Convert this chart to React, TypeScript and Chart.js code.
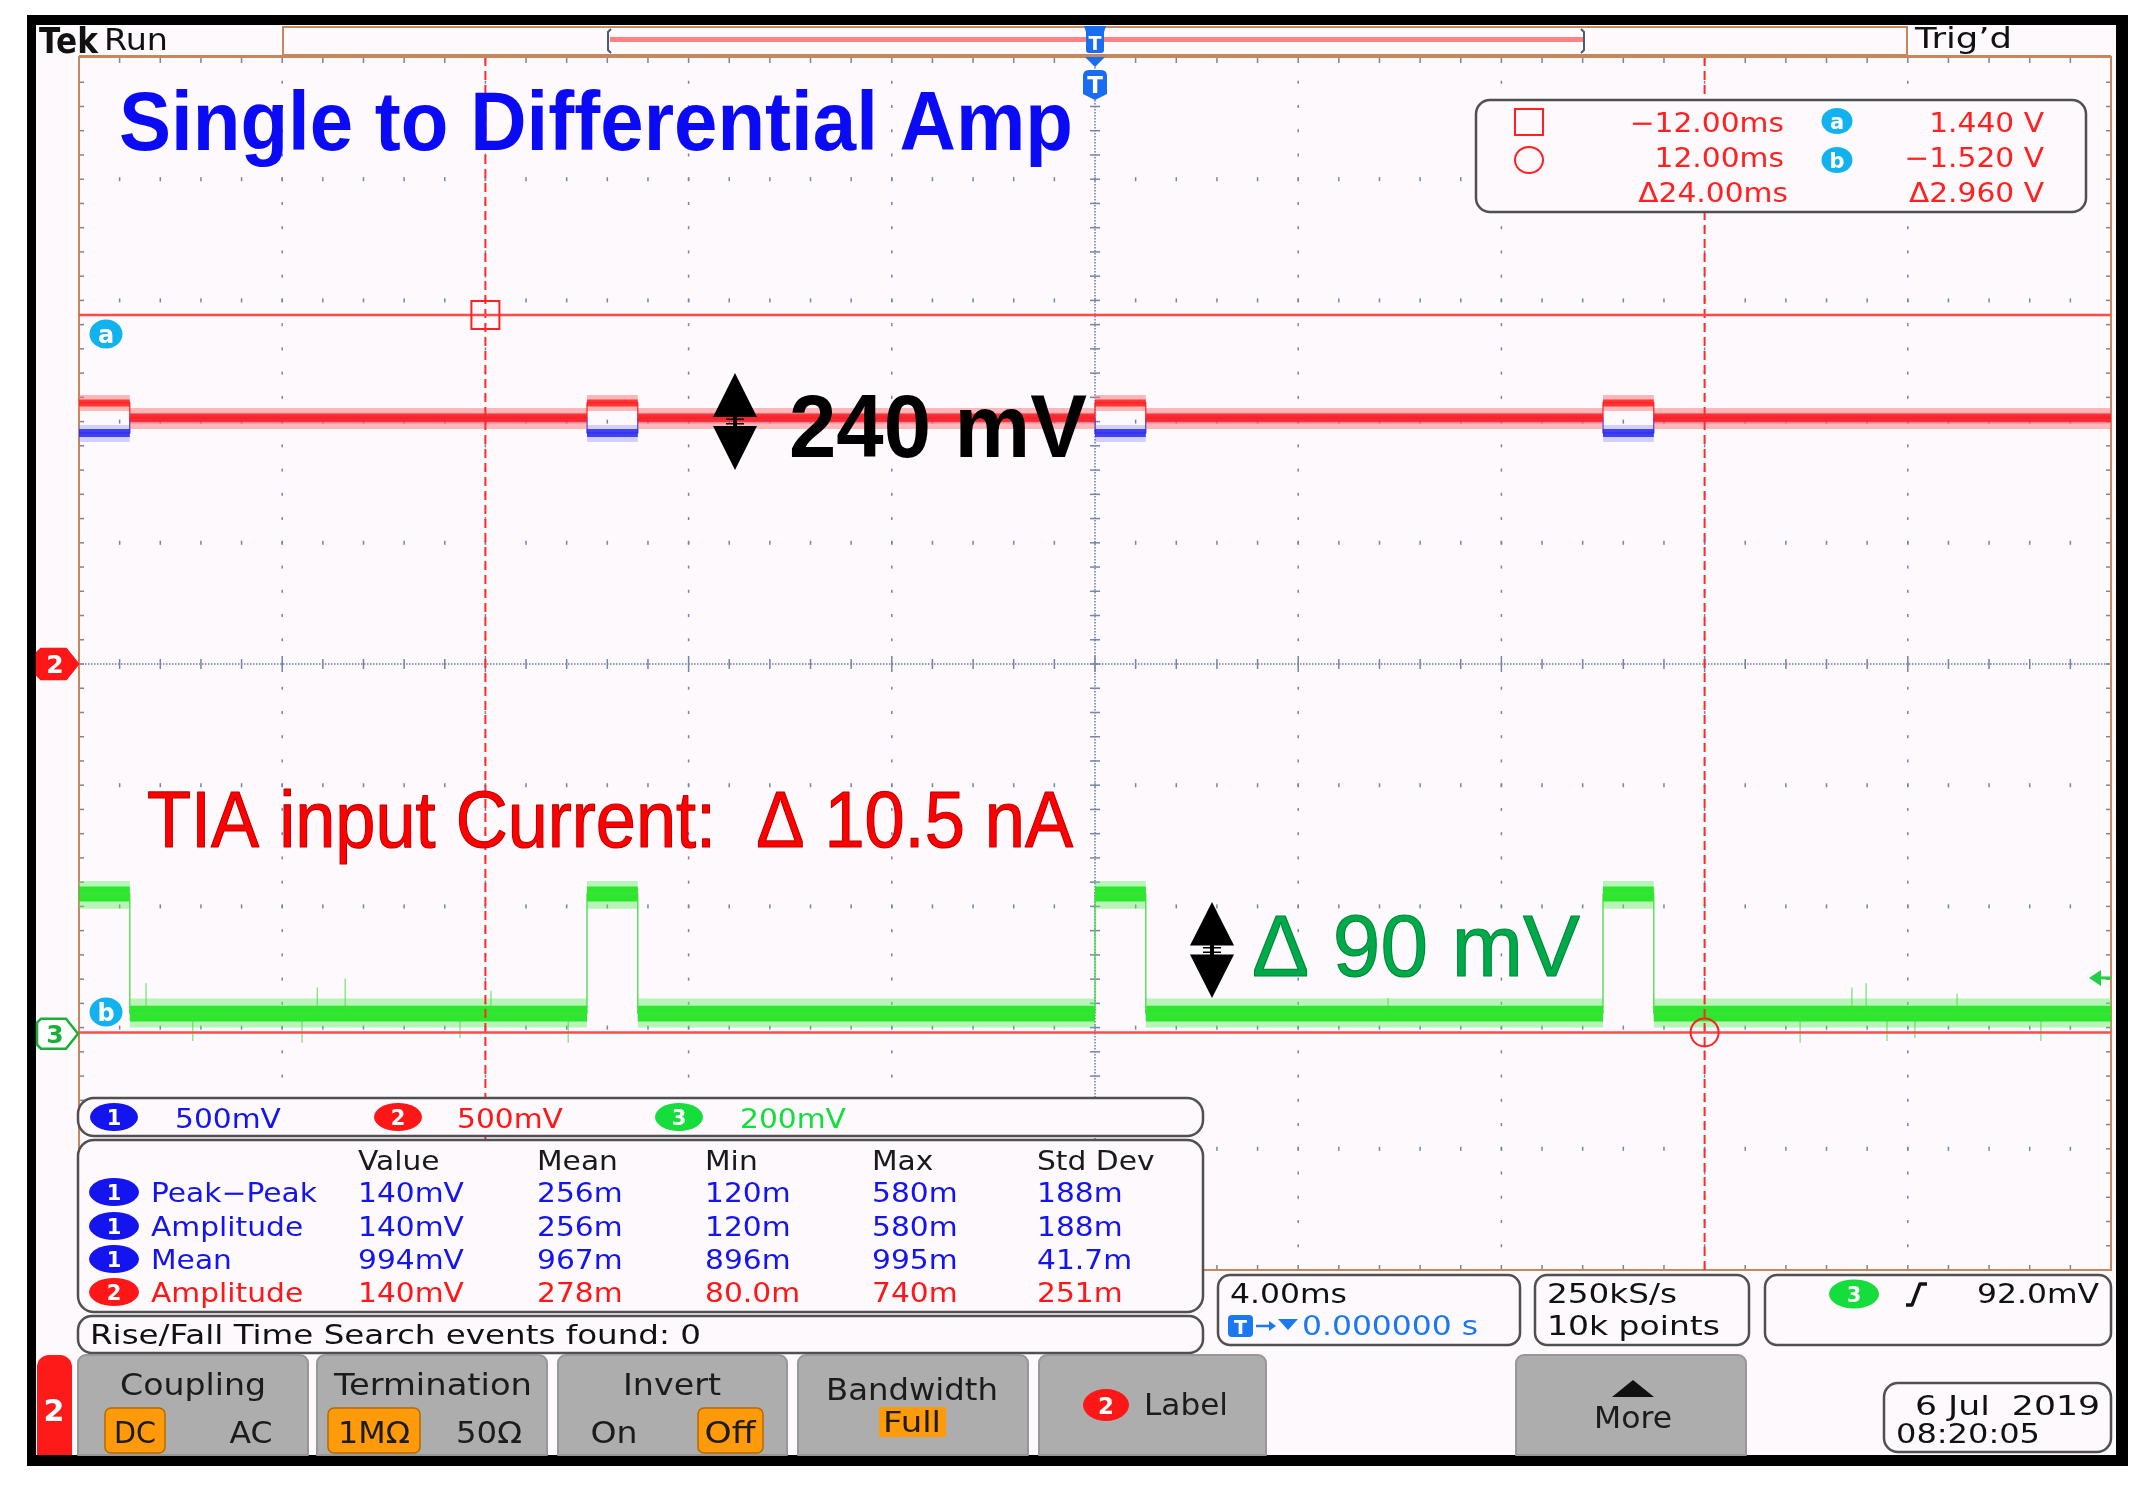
import React, { useEffect, useRef } from "react";
import { Chart, registerables } from "chart.js";
Chart.register(...registerables);

const CANVAS_W = 2144;
const CANVAS_H = 1487;

// ---- axes (time in ms, vertical in divisions) ----
const timeRangeMs = [-20, 20];
const divRange = [-5, 5];
const timeMajorStepMs = 4;
const timeMinorStepMs = 0.8;
const divMinorStep = 0.2;

// ---- pulse timing ----
const pulseStartsMs = [-20, -10, 0, 10];
const pulseWidthMs = 1.0;

// ---- channel settings ----
const ch1VoltsPerDiv = 0.5;
const ch2VoltsPerDiv = 0.5;
const ch3VoltsPerDiv = 0.2;
const ch1PositionDiv = 0;
const ch2PositionDiv = 0;
const ch3PositionDiv = -3.05;

// envelope levels in volts: [outer low, inner low, centre, inner high, outer high]
const ch1BaselineV = [0.99, 1.002, 1.013, 1.025, 1.036];
const ch1PulseV = [0.916, 0.936, 0.953, 0.969, 0.986];
const ch2BaselineV = [0.969, 0.997, 1.015, 1.033, 1.056];
const ch2PulseV = [1.044, 1.062, 1.077, 1.091, 1.11];
const ch3BaselineV = [0.01, 0.02, 0.033, 0.046, 0.058];
const ch3PulseV = [0.206, 0.218, 0.231, 0.243, 0.252];

// sparse noise spikes on channel 3
const ch3SpikeTimesMs = [-18.68, -17.76, -15.61, -15.31, -14.76, -12.5, -11.89, -10.37, 5.77, 13.88, 14.9, 15.18, 15.59, 16.14, 16.97, 18.62];
const ch3SpikePeaksV = [0.083, -0.012, -0.015, 0.076, 0.091, -0.007, 0.071, -0.015, 0.059, -0.015, 0.076, 0.083, -0.012, -0.007, 0.066, -0.012];

// ---- cursors & trigger ----
const cursorTimesMs = [-12, 12];
const cursorVolts = [1.44, -1.52];
const cursorVoltsPerDiv = 0.5;
const triggerTimeMs = 0;
const triggerLevelV = 0.092;

// ---- readouts / texts ----
const cursorTimeTexts = ["\u221212.00ms", "12.00ms", "\u039424.00ms"];
const cursorVoltTexts = ["1.440 V", "\u22121.520 V", "\u03942.960 V"];
const channelScaleTexts = ["500mV", "500mV", "200mV"];
const measurementHeaders = ["Value", "Mean", "Min", "Max", "Std Dev"];
const measurementChannels = [1, 1, 1, 2];
const measurementNames = ["Peak\u2212Peak", "Amplitude", "Mean", "Amplitude"];
const measurementRow1 = ["140mV", "256m", "120m", "580m", "188m"];
const measurementRow2 = ["140mV", "256m", "120m", "580m", "188m"];
const measurementRow3 = ["994mV", "967m", "896m", "995m", "41.7m"];
const measurementRow4 = ["140mV", "278m", "80.0m", "740m", "251m"];

const BG = "#fdf9fd";
const BROWN = "#c8875a";
const UI = '"DejaVu Sans", "Open Sans", sans-serif';
const ANN = '"Liberation Sans", Arial, sans-serif';
const CH1C = "#1414ee";
const CH2C = "#ff1616";
const CH3C = "#14dd3c";
const CYAN = "#12b2ee";

type TOpts = {
  size: number; color: string; font?: string; weight?: string;
  align?: "left" | "center" | "right"; w?: number; sx?: number; stroke?: string; lw?: number;
};

function txt(ctx: CanvasRenderingContext2D, s: string, x: number, y: number, o: TOpts) {
  ctx.save();
  const font = o.font ?? UI;
  ctx.font = `${o.weight ?? "normal"} ${o.size}px ${font}`;
  const m = ctx.measureText(s).width;
  const sx = o.w ? o.w / m : (o.sx ?? (font === UI ? 1.1 : 1));
  const dw = m * sx;
  const x0 = o.align === "center" ? x - dw / 2 : o.align === "right" ? x - dw : x;
  ctx.translate(x0, y);
  ctx.scale(sx, 1);
  ctx.textAlign = "left";
  ctx.textBaseline = "alphabetic";
  ctx.fillStyle = o.color;
  ctx.fillText(s, 0, 0);
  if (o.stroke) {
    ctx.strokeStyle = o.stroke;
    ctx.lineWidth = o.lw ?? 1;
    ctx.lineJoin = "round";
    ctx.strokeText(s, 0, 0);
  }
  ctx.restore();
}

function rrPath(ctx: CanvasRenderingContext2D, x: number, y: number, w: number, h: number, r: number) {
  ctx.beginPath();
  ctx.moveTo(x + r, y);
  ctx.arcTo(x + w, y, x + w, y + h, r);
  ctx.arcTo(x + w, y + h, x, y + h, r);
  ctx.arcTo(x, y + h, x, y, r);
  ctx.arcTo(x, y, x + w, y, r);
  ctx.closePath();
}

function box(ctx: CanvasRenderingContext2D, x: number, y: number, w: number, h: number, r: number, fill?: string, stroke?: string, lw = 2.5) {
  rrPath(ctx, x, y, w, h, r);
  if (fill) { ctx.fillStyle = fill; ctx.fill(); }
  if (stroke) { ctx.strokeStyle = stroke; ctx.lineWidth = lw; ctx.stroke(); }
}

function topRound(ctx: CanvasRenderingContext2D, x: number, y: number, w: number, h: number, r: number, fill: string, stroke?: string) {
  ctx.beginPath();
  ctx.moveTo(x, y + h);
  ctx.lineTo(x, y + r);
  ctx.arcTo(x, y, x + r, y, r);
  ctx.lineTo(x + w - r, y);
  ctx.arcTo(x + w, y, x + w, y + r, r);
  ctx.lineTo(x + w, y + h);
  ctx.closePath();
  ctx.fillStyle = fill;
  ctx.fill();
  if (stroke) { ctx.strokeStyle = stroke; ctx.lineWidth = 2; ctx.stroke(); }
}

function badge(ctx: CanvasRenderingContext2D, cx: number, cy: number, w: number, h: number, fill: string, label: string, size = 22) {
  ctx.beginPath();
  ctx.ellipse(cx, cy, w / 2, h / 2, 0, 0, Math.PI * 2);
  ctx.fillStyle = fill;
  ctx.fill();
  txt(ctx, label, cx, cy + size * 0.37, { size, color: "#ffffff", weight: "bold", align: "center", sx: 1 });
}

function dblArrow(ctx: CanvasRenderingContext2D, cx: number, top: number, bottom: number, hw: number) {
  const mid = (top + bottom) / 2;
  ctx.fillStyle = "#000";
  ctx.beginPath(); ctx.moveTo(cx, top); ctx.lineTo(cx + hw, mid - 4.5); ctx.lineTo(cx - hw, mid - 4.5); ctx.closePath(); ctx.fill();
  ctx.beginPath(); ctx.moveTo(cx, bottom); ctx.lineTo(cx + hw, mid + 4.5); ctx.lineTo(cx - hw, mid + 4.5); ctx.closePath(); ctx.fill();
  ctx.fillRect(cx - 2, mid - 5, 4, 10);
  ctx.fillRect(cx - 9, mid - 3, 18, 1.5);
  ctx.fillRect(cx - 9, mid + 1.5, 18, 1.5);
}

// ---- data builders ----
function segments(): [number, number, boolean][] {
  const segs: [number, number, boolean][] = [];
  let t = timeRangeMs[0];
  for (const s of pulseStartsMs) {
    if (s > t) segs.push([t, s, false]);
    segs.push([s, s + pulseWidthMs, true]);
    t = s + pulseWidthMs;
  }
  if (t < timeRangeMs[1]) segs.push([t, timeRangeMs[1], false]);
  return segs;
}

function levelPath(base: number[], pulse: number[], k: number, vpd: number, pos: number) {
  const pts: { x: number; y: number }[] = [];
  for (const [a, b, p] of segments()) {
    const v = (p ? pulse : base)[k] / vpd + pos;
    pts.push({ x: a, y: v }, { x: b, y: v });
  }
  return pts;
}

const NONE = "rgba(0,0,0,0)";

function channelDatasets(base: number[], pulse: number[], vpd: number, pos: number, outer: string, inner: string, mid: string, midW: number, order: number) {
  const common = { pointRadius: 0, borderWidth: 0, borderColor: NONE };
  return [
    { ...common, data: levelPath(base, pulse, 4, vpd, pos), fill: "+1", backgroundColor: outer, order: order + 2 },
    { ...common, data: levelPath(base, pulse, 0, vpd, pos), fill: false, order: order + 2 },
    { ...common, data: levelPath(base, pulse, 3, vpd, pos), fill: "+1", backgroundColor: inner, order: order + 1 },
    { ...common, data: levelPath(base, pulse, 1, vpd, pos), fill: false, order: order + 1 },
    { pointRadius: 0, data: levelPath(base, pulse, 2, vpd, pos), fill: false, borderColor: mid, borderWidth: midW, order },
  ];
}

function spikeData() {
  const d: { x: number; y: number | null }[] = [];
  ch3SpikeTimesMs.forEach((t, i) => {
    d.push({ x: t, y: ch3BaselineV[2] / ch3VoltsPerDiv + ch3PositionDiv });
    d.push({ x: t, y: ch3SpikePeaksV[i] / ch3VoltsPerDiv + ch3PositionDiv });
    d.push({ x: t, y: null });
  });
  return d;
}

// ---- plugins ----
const backgroundPlugin = {
  id: "scopeBackground",
  beforeDraw(chart: any) {
    const ctx: CanvasRenderingContext2D = chart.ctx;
    ctx.save();
    ctx.fillStyle = "#ffffff";
    ctx.fillRect(0, 0, CANVAS_W, CANVAS_H);
    ctx.fillStyle = "#000";
    ctx.fillRect(27, 15, 2101, 1451);
    ctx.fillStyle = BG;
    ctx.fillRect(36, 25, 2080, 1430);
    // header
    ctx.fillStyle = BG;
    ctx.fillRect(283, 27, 1624, 28);
    ctx.strokeStyle = BROWN;
    ctx.lineWidth = 2;
    ctx.strokeRect(283, 27, 1624, 28);
    ctx.fillStyle = "#ff8282";
    ctx.fillRect(610, 37, 974, 5);
    ctx.strokeStyle = "#4a5a7a";
    ctx.lineWidth = 2;
    ctx.beginPath();
    ctx.moveTo(611, 29); ctx.lineTo(608, 32); ctx.lineTo(608, 50); ctx.lineTo(611, 53);
    ctx.moveTo(1581, 29); ctx.lineTo(1584, 32); ctx.lineTo(1584, 50); ctx.lineTo(1581, 53);
    ctx.stroke();
    txt(ctx, "Tek", 39, 53, { size: 35, color: "#111", weight: "bold", w: 59 });
    txt(ctx, "Run", 104, 50, { size: 30, color: "#111", w: 64 });
    txt(ctx, "Trig\u2019d", 1915, 48, { size: 29, color: "#111", w: 97 });
    ctx.restore();
  },
};

const gridPlugin = {
  id: "scopeGrid",
  beforeDatasetsDraw(chart: any) {
    const ctx: CanvasRenderingContext2D = chart.ctx;
    const { left, right, top, bottom } = chart.chartArea;
    const xs = chart.scales.x;
    const ys = chart.scales.y;
    ctx.save();
    ctx.fillStyle = "#7684a8";
    const nMajX = Math.round((timeRangeMs[1] - timeRangeMs[0]) / timeMajorStepMs);
    const nMinX = Math.round((timeRangeMs[1] - timeRangeMs[0]) / timeMinorStepMs);
    const nMajY = Math.round(divRange[1] - divRange[0]);
    const nMinY = Math.round((divRange[1] - divRange[0]) / divMinorStep);
    for (let i = 1; i < nMajX; i++) {
      const t = timeRangeMs[0] + i * timeMajorStepMs;
      if (Math.abs(t) < 1e-9) continue;
      const px = xs.getPixelForValue(t);
      for (let j = 1; j < nMinY; j++) {
        const py = ys.getPixelForValue(divRange[0] + j * divMinorStep);
        ctx.fillRect(px - 0.75, py - 1.5, 1.5, 3);
      }
    }
    for (let i = 1; i < nMajY; i++) {
      const v = divRange[0] + i;
      if (v === 0) continue;
      const py = ys.getPixelForValue(v);
      for (let j = 1; j < nMinX; j++) {
        const px = xs.getPixelForValue(timeRangeMs[0] + j * timeMinorStepMs);
        ctx.fillRect(px - 0.75, py - 2, 1.5, 4);
      }
    }
    // centre crosshair
    const cx = xs.getPixelForValue(0);
    const cy = ys.getPixelForValue(0);
    ctx.strokeStyle = "#8e9abb";
    ctx.lineWidth = 2;
    ctx.setLineDash([1.5, 1.5]);
    ctx.beginPath();
    ctx.moveTo(left, cy); ctx.lineTo(right, cy);
    ctx.moveTo(cx, top); ctx.lineTo(cx, bottom);
    ctx.stroke();
    ctx.setLineDash([]);
    for (let j = 1; j < nMinX; j++) {
      const px = xs.getPixelForValue(timeRangeMs[0] + j * timeMinorStepMs);
      const major = j % 5 === 0;
      ctx.fillRect(px - 0.75, cy - (major ? 8 : 5), 1.5, major ? 16 : 10);
      ctx.fillRect(px - 0.75, top, 1.5, 5);
      ctx.fillRect(px - 0.75, bottom - 5, 1.5, 5);
    }
    for (let j = 1; j < nMinY; j++) {
      const py = ys.getPixelForValue(divRange[0] + j * divMinorStep);
      ctx.fillRect(cx - 5, py - 0.75, 10, 1.5);
      ctx.fillRect(left, py - 0.75, 5, 1.5);
      ctx.fillRect(right - 5, py - 0.75, 5, 1.5);
    }
    // border
    ctx.strokeStyle = BROWN;
    ctx.lineWidth = 2;
    ctx.strokeRect(left, top - 1, right - left, bottom - top + 1);
    ctx.fillStyle = BROWN;
    ctx.fillRect(left, top - 3, right - left, 3);
    ctx.restore();
  },
};

function hexMarker(ctx: CanvasRenderingContext2D, cy: number, fill: string, stroke: string, label: string, tc: string) {
  ctx.beginPath();
  ctx.moveTo(37, cy - 11); ctx.lineTo(41, cy - 15); ctx.lineTo(66, cy - 15); ctx.lineTo(78, cy);
  ctx.lineTo(66, cy + 15); ctx.lineTo(41, cy + 15); ctx.lineTo(37, cy + 11); ctx.closePath();
  ctx.fillStyle = fill; ctx.fill();
  ctx.strokeStyle = stroke; ctx.lineWidth = 2.5; ctx.stroke();
  txt(ctx, label, 55, cy + 9, { size: 25, color: tc, weight: "bold", align: "center", sx: 1 });
}

const overlayPlugin = {
  id: "scopeOverlay",
  afterDatasetsDraw(chart: any) {
    const ctx: CanvasRenderingContext2D = chart.ctx;
    const xs = chart.scales.x;
    const ys = chart.scales.y;
    ctx.save();

    // ground markers
    hexMarker(ctx, ys.getPixelForValue(ch2PositionDiv), CH2C, CH2C, "2", "#fff");
    hexMarker(ctx, ys.getPixelForValue(ch3PositionDiv), "#ffffff", "#18b038", "3", "#18b038");

    // cursor markers a / b
    badge(ctx, 106, 334, 33, 29, CYAN, "a", 24);
    badge(ctx, 106, 1012, 33, 29, CYAN, "b", 24);

    // trigger markers
    const tx = xs.getPixelForValue(triggerTimeMs);
    const tb = "#1a6cf0";
    ctx.fillStyle = tb;
    ctx.beginPath();
    ctx.moveTo(tx - 11, 26); ctx.lineTo(tx + 11, 26); ctx.lineTo(tx + 9, 32); ctx.lineTo(tx + 9, 50);
    ctx.quadraticCurveTo(tx + 9, 53, tx + 6, 53); ctx.lineTo(tx - 6, 53); ctx.quadraticCurveTo(tx - 9, 53, tx - 9, 50);
    ctx.lineTo(tx - 9, 32); ctx.closePath(); ctx.fill();
    txt(ctx, "T", tx, 50, { size: 19, color: "#fff", weight: "bold", align: "center", sx: 1 });
    ctx.fillStyle = tb;
    ctx.beginPath(); ctx.moveTo(tx - 10, 57); ctx.lineTo(tx + 10, 57); ctx.lineTo(tx, 67); ctx.closePath(); ctx.fill();
    ctx.beginPath();
    ctx.moveTo(tx - 12, 94); ctx.lineTo(tx - 12, 76); ctx.quadraticCurveTo(tx - 12, 70, tx - 6, 70);
    ctx.lineTo(tx + 6, 70); ctx.quadraticCurveTo(tx + 12, 70, tx + 12, 76); ctx.lineTo(tx + 12, 94);
    ctx.lineTo(tx, 100); ctx.closePath(); ctx.fill();
    txt(ctx, "T", tx, 93, { size: 23, color: "#fff", weight: "bold", align: "center", sx: 1 });

    // trigger level arrow
    const ty = ys.getPixelForValue(triggerLevelV / ch3VoltsPerDiv + ch3PositionDiv);
    ctx.fillStyle = "#22d044";
    ctx.beginPath(); ctx.moveTo(2089, ty); ctx.lineTo(2101, ty - 8); ctx.lineTo(2101, ty + 8); ctx.closePath(); ctx.fill();
    ctx.fillRect(2099, ty - 1.5, 12, 3);

    // annotations
    txt(ctx, "Single to Differential Amp", 119, 150, { size: 84, font: ANN, color: "#0a0af5", weight: "bold", w: 954 });
    dblArrow(ctx, 735, 373, 470, 22);
    txt(ctx, "240 mV", 789, 457, { size: 89, font: ANN, color: "#000", weight: "bold", w: 298 });
    txt(ctx, "TIA input Current:  \u0394 10.5 nA", 147, 847, { size: 79, font: ANN, color: "#ff0000", w: 926, stroke: "#c00000", lw: 1.2 });
    dblArrow(ctx, 1212, 902, 998, 22);
    txt(ctx, "\u0394 90 mV", 1252, 976, { size: 88, font: ANN, color: "#00aa4a", w: 328, stroke: "#008a38", lw: 1.2 });

    // cursor readout
    box(ctx, 1476, 100, 610, 112, 14, BG, "#505050", 2.5);
    ctx.strokeStyle = "#ff2020"; ctx.lineWidth = 2;
    ctx.strokeRect(1515, 109, 28, 26);
    ctx.beginPath(); ctx.ellipse(1529, 160, 14, 13, 0, 0, Math.PI * 2); ctx.stroke();
    const rowsY = [132, 167, 202];
    cursorTimeTexts.forEach((s, i) => txt(ctx, s, i === 2 ? 1788 : 1784, rowsY[i], { size: 27, color: "#ff2020", align: "right" }));
    cursorVoltTexts.forEach((s, i) => txt(ctx, s, 2044, rowsY[i], { size: 27, color: "#ff2020", align: "right" }));
    badge(ctx, 1837, 121, 31, 26, CYAN, "a", 21);
    badge(ctx, 1837, 160, 31, 26, CYAN, "b", 21);

    // channel scale bar
    box(ctx, 78, 1098, 1125, 38, 16, BG, "#505050", 2.5);
    const chBadgeX = [114, 398, 679];
    const chTextX = [175, 457, 740];
    const chColors = [CH1C, CH2C, CH3C];
    chBadgeX.forEach((bx, i) => {
      badge(ctx, bx, 1117, 48, 28, chColors[i], String(i + 1), 21);
      txt(ctx, channelScaleTexts[i], chTextX[i], 1128, { size: 27, color: chColors[i] });
    });

    // measurement table
    box(ctx, 78, 1140, 1125, 172, 16, BG, "#505050", 2.5);
    const colX = [358, 537, 705, 872, 1037];
    measurementHeaders.forEach((h, i) => txt(ctx, h, colX[i], 1170, { size: 27, color: "#1a1a1a" }));
    const rows = [measurementRow1, measurementRow2, measurementRow3, measurementRow4];
    const rowBase = [1202, 1236, 1269, 1302];
    rows.forEach((r, ri) => {
      const ch = measurementChannels[ri];
      const c = ch === 1 ? CH1C : CH2C;
      badge(ctx, 114, rowBase[ri] - 10, 50, 28, c, String(ch), 21);
      txt(ctx, measurementNames[ri], 151, rowBase[ri], { size: 27, color: c });
      r.forEach((v, ci) => txt(ctx, v, colX[ci], rowBase[ri], { size: 27, color: c }));
    });

    // rise / fall
    box(ctx, 78, 1316, 1125, 37, 14, BG, "#505050", 2.5);
    txt(ctx, "Rise/Fall Time Search events found: 0", 90, 1344, { size: 27, color: "#111", w: 611 });

    // info boxes
    box(ctx, 1218, 1275, 302, 70, 12, BG, "#505050", 2.5);
    txt(ctx, "4.00ms", 1230, 1303, { size: 26, color: "#111", w: 117 });
    box(ctx, 1228, 1315, 25, 22, 4, "#1a78f0");
    txt(ctx, "T", 1240.5, 1334, { size: 19, color: "#fff", weight: "bold", align: "center", sx: 1 });
    ctx.strokeStyle = "#1a78f0"; ctx.lineWidth = 2.5;
    ctx.beginPath(); ctx.moveTo(1256, 1326); ctx.lineTo(1272, 1326); ctx.stroke();
    ctx.fillStyle = "#1a78f0";
    ctx.beginPath(); ctx.moveTo(1276, 1326); ctx.lineTo(1269, 1321); ctx.lineTo(1269, 1331); ctx.closePath(); ctx.fill();
    ctx.beginPath(); ctx.moveTo(1278, 1319); ctx.lineTo(1298, 1319); ctx.lineTo(1288, 1330); ctx.closePath(); ctx.fill();
    txt(ctx, "0.000000 s", 1302, 1335, { size: 26, color: "#1a78f0", w: 176 });

    box(ctx, 1535, 1275, 214, 70, 12, BG, "#505050", 2.5);
    txt(ctx, "250kS/s", 1547, 1303, { size: 26, color: "#111", w: 130 });
    txt(ctx, "10k points", 1547, 1335, { size: 26, color: "#111", w: 173 });

    box(ctx, 1765, 1275, 346, 70, 12, BG, "#505050", 2.5);
    badge(ctx, 1854, 1294, 50, 29, CH3C, "3", 21);
    ctx.strokeStyle = "#111"; ctx.lineWidth = 3.5; ctx.lineJoin = "round";
    ctx.beginPath(); ctx.moveTo(1906, 1305); ctx.lineTo(1912, 1305); ctx.lineTo(1920, 1284); ctx.lineTo(1927, 1284); ctx.stroke();
    txt(ctx, "92.0mV", 2099, 1303, { size: 26, color: "#111", align: "right", w: 122 });

    // bottom menu
    topRound(ctx, 37, 1355, 35, 100, 12, "#ff1a1a");
    txt(ctx, "2", 54, 1421, { size: 30, color: "#fff", weight: "bold", align: "center", sx: 1 });
    const btnX = [78, 317, 558, 798, 1039, 1516];
    const btnR = [308, 547, 787, 1028, 1266, 1746];
    btnX.forEach((bx, i) => topRound(ctx, bx, 1355, btnR[i] - bx, 100, 8, "#adadad", "#979797"));
    const orange = (x: number, y: number, w: number, h: number) => box(ctx, x, y, w, h, 6, "#ff9a0a", "#b56a00", 1.5);
    txt(ctx, "Coupling", 193, 1395, { size: 30, color: "#1c1c1c", align: "center", w: 146 });
    orange(105, 1408, 60, 45);
    txt(ctx, "DC", 135, 1443, { size: 30, color: "#1c1c1c", align: "center", w: 42 });
    txt(ctx, "AC", 251, 1443, { size: 30, color: "#1c1c1c", align: "center", w: 43 });
    txt(ctx, "Termination", 433, 1395, { size: 30, color: "#1c1c1c", align: "center", w: 198 });
    orange(328, 1408, 92, 45);
    txt(ctx, "1M\u03a9", 374, 1443, { size: 30, color: "#1c1c1c", align: "center", w: 72 });
    txt(ctx, "50\u03a9", 489, 1443, { size: 30, color: "#1c1c1c", align: "center", w: 66 });
    txt(ctx, "Invert", 672, 1395, { size: 30, color: "#1c1c1c", align: "center", w: 98 });
    txt(ctx, "On", 614, 1443, { size: 30, color: "#1c1c1c", align: "center", w: 47 });
    orange(698, 1408, 65, 45);
    txt(ctx, "Off", 730, 1443, { size: 30, color: "#1c1c1c", align: "center", w: 51 });
    txt(ctx, "Bandwidth", 912, 1400, { size: 30, color: "#1c1c1c", align: "center", w: 172 });
    ctx.fillStyle = "#ff9a0a"; ctx.fillRect(879, 1407, 67, 30);
    txt(ctx, "Full", 912, 1432, { size: 28, color: "#1c1c1c", align: "center", w: 58 });
    badge(ctx, 1106, 1405, 46, 32, CH2C, "2", 23);
    txt(ctx, "Label", 1144, 1415, { size: 30, color: "#1c1c1c", w: 84 });
    ctx.fillStyle = "#111";
    ctx.beginPath(); ctx.moveTo(1612, 1397); ctx.lineTo(1654, 1397); ctx.lineTo(1633, 1380); ctx.closePath(); ctx.fill();
    txt(ctx, "More", 1633, 1428, { size: 30, color: "#1c1c1c", align: "center", w: 78 });
    box(ctx, 1884, 1383, 227, 69, 14, BG, "#505050", 2.5);
    txt(ctx, "6 Jul  2019", 1915, 1415, { size: 27, color: "#111", w: 185 });
    txt(ctx, "08:20:05", 1896, 1443, { size: 27, color: "#111", w: 144 });

    ctx.restore();
  },
};

export default function App() {
  const ref = useRef<HTMLCanvasElement>(null);
  useEffect(() => {
    document.body.style.margin = "0";
    const aDiv = cursorVolts[0] / cursorVoltsPerDiv;
    const bDiv = cursorVolts[1] / cursorVoltsPerDiv;
    const datasets: any[] = [
      ...channelDatasets(ch3BaselineV, ch3PulseV, ch3VoltsPerDiv, ch3PositionDiv, "rgba(100,238,100,0.45)", "rgba(20,228,20,0.85)", "#45dc45", 1.3, 30),
      { data: spikeData(), borderColor: "rgba(70,220,70,0.75)", borderWidth: 1.2, pointRadius: 0, fill: false, spanGaps: false, order: 29 },
      ...channelDatasets(ch1BaselineV, ch1PulseV, ch1VoltsPerDiv, ch1PositionDiv, "rgba(110,110,255,0.3)", "rgba(40,40,240,0.85)", "#2a2af0", 1.2, 20),
      ...channelDatasets(ch2BaselineV, ch2PulseV, ch2VoltsPerDiv, ch2PositionDiv, "rgba(255,115,115,0.5)", "rgba(255,35,35,0.88)", "#ff2020", 1.2, 10),
      { data: [{ x: cursorTimesMs[0], y: divRange[0] }, { x: cursorTimesMs[0], y: divRange[1] }], borderColor: "#ff2a2a", borderWidth: 2, borderDash: [9, 5], pointRadius: 0, fill: false, order: 5 },
      { data: [{ x: cursorTimesMs[1], y: divRange[0] }, { x: cursorTimesMs[1], y: divRange[1] }], borderColor: "#ff2a2a", borderWidth: 2, borderDash: [9, 5], pointRadius: 0, fill: false, order: 5 },
      { data: [{ x: timeRangeMs[0], y: aDiv }, { x: timeRangeMs[1], y: aDiv }], borderColor: "#ff4a4a", borderWidth: 2.5, pointRadius: 0, fill: false, order: 4 },
      { data: [{ x: timeRangeMs[0], y: bDiv }, { x: timeRangeMs[1], y: bDiv }], borderColor: "#ff4a4a", borderWidth: 2.5, pointRadius: 0, fill: false, order: 4 },
      { data: [{ x: cursorTimesMs[0], y: aDiv }], showLine: false, pointStyle: "rect", pointRadius: 19.8, pointBorderColor: "#ff2020", pointBackgroundColor: NONE, pointBorderWidth: 2, order: 1 },
      { data: [{ x: cursorTimesMs[1], y: bDiv }], showLine: false, pointStyle: "circle", pointRadius: 14, pointBorderColor: "#ff2020", pointBackgroundColor: NONE, pointBorderWidth: 2, order: 1 },
    ];
    const chart = new Chart(ref.current as HTMLCanvasElement, {
      type: "line",
      data: { datasets },
      options: {
        animation: false,
        responsive: false,
        devicePixelRatio: 1,
        events: [],
        layout: { padding: { left: 79, right: 33, top: 58, bottom: 217 } },
        scales: {
          x: { type: "linear", min: timeRangeMs[0], max: timeRangeMs[1], display: false },
          y: { type: "linear", min: divRange[0], max: divRange[1], display: false },
        },
        plugins: {
          legend: { display: false },
          tooltip: { enabled: false },
          filler: { drawTime: "beforeDatasetDraw", propagate: false },
        },
      } as any,
      plugins: [backgroundPlugin, gridPlugin, overlayPlugin],
    });
    return () => chart.destroy();
  }, []);
  return (
    <div style={{ width: CANVAS_W, height: CANVAS_H }}>
      <canvas ref={ref} width={CANVAS_W} height={CANVAS_H} style={{ display: "block", width: CANVAS_W, height: CANVAS_H }} />
    </div>
  );
}
